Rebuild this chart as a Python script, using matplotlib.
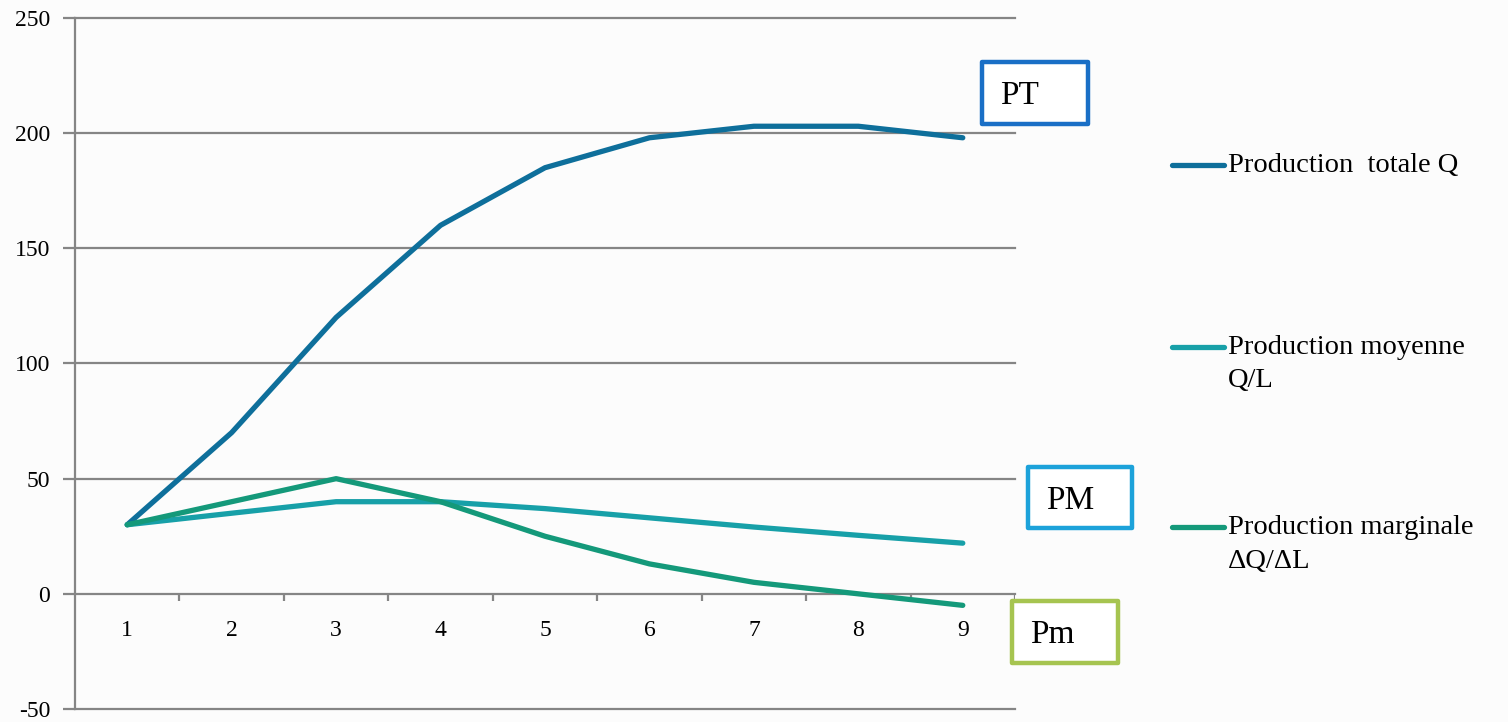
import matplotlib.pyplot as plt
from matplotlib.lines import Line2D
from matplotlib.patches import Rectangle

# data
travail = [1, 2, 3, 4, 5, 6, 7, 8, 9]
prod_totale = [30, 70, 120, 160, 185, 198, 203, 203, 198]
prod_moyenne = [30, 35, 40, 40, 37, 33, 29, 25.4, 22]
prod_marginale = [30, 40, 50, 40, 25, 13, 5, 0, -5]
y_ticks = [-50, 0, 50, 100, 150, 200, 250]

noms = ["Production  totale Q", "Production moyenne\nQ/L", "Production marginale\n\u0394Q/\u0394L"]
couleurs = ["#0e6f9b", "#17a0a8", "#14997a"]

W, H = 1508, 722
fig = plt.figure(figsize=(W / 100, H / 100), dpi=100)
fig.patch.set_facecolor("#fcfcfc")


def fx(px):
    return px / W


def fy(py):
    return 1 - py / H


ax = fig.add_axes([fx(75), fy(709), fx(1015) - fx(75), fy(18) - fy(709)])
ax.set_facecolor("none")
ax.set_xlim(0.5, 9.5)
ax.set_ylim(-50, 250)

grid_col = "#858585"
for s in ["top", "right", "bottom"]:
    ax.spines[s].set_visible(False)
ax.spines["left"].set_color(grid_col)
ax.spines["left"].set_linewidth(1.6)
ax.set_yticks(y_ticks)
ax.set_yticklabels([str(v) for v in y_ticks], fontsize=17, family="Liberation Serif")
ax.tick_params(axis="y", length=9, width=1.6, color=grid_col, pad=9)
ax.set_xticks([])
for v in y_ticks:
    ax.axhline(v, color=grid_col, lw=1.6, zorder=1, clip_on=False)

# small ticks on the zero line between categories
ax.vlines([x + 0.5 for x in travail], -3.2, 0, color=grid_col, lw=1.6)
for x in travail:
    ax.text(x, -16, str(x), ha="center", va="center", fontsize=17, family="Liberation Serif")

series = [prod_totale, prod_moyenne, prod_marginale]
for vals, c in zip(series, couleurs):
    ax.plot(travail, vals, color=c, lw=3.8, solid_capstyle="round", zorder=3)

# legend drawn by hand so the handle sits on the first line
leg_y = [165, 347, 527]
for nom, c, y in zip(noms, couleurs, leg_y):
    fig.add_artist(Line2D([fx(1172), fx(1224)], [fy(y), fy(y)], color=c, lw=3.8,
                          solid_capstyle="round"))
    for i, ligne in enumerate(nom.split("\n")):
        fig.text(fx(1228), fy(y + i * 34), ligne, ha="left", va="center",
                 fontsize=20.5, family="Liberation Serif")

# labelled boxes
boites = [("PT", 982, 62, 1088, 124, "#1a6fc6"),
          ("PM", 1028, 467, 1132, 528, "#1ca2da"),
          ("Pm", 1012, 601, 1118, 663, "#a6c450")]
for txt, x0, y0, x1, y1, c in boites:
    fig.add_artist(Rectangle((fx(x0), fy(y1)), fx(x1) - fx(x0), fy(y0) - fy(y1),
                             transform=fig.transFigure, facecolor="white",
                             edgecolor=c, lw=3.2, joinstyle="round"))
    fig.text(fx(x0 + 18), fy((y0 + y1) / 2 + 3), txt, ha="left", va="center",
             fontsize=24, family="Liberation Serif")

fig.savefig("out.png", dpi=100, facecolor=fig.get_facecolor())
